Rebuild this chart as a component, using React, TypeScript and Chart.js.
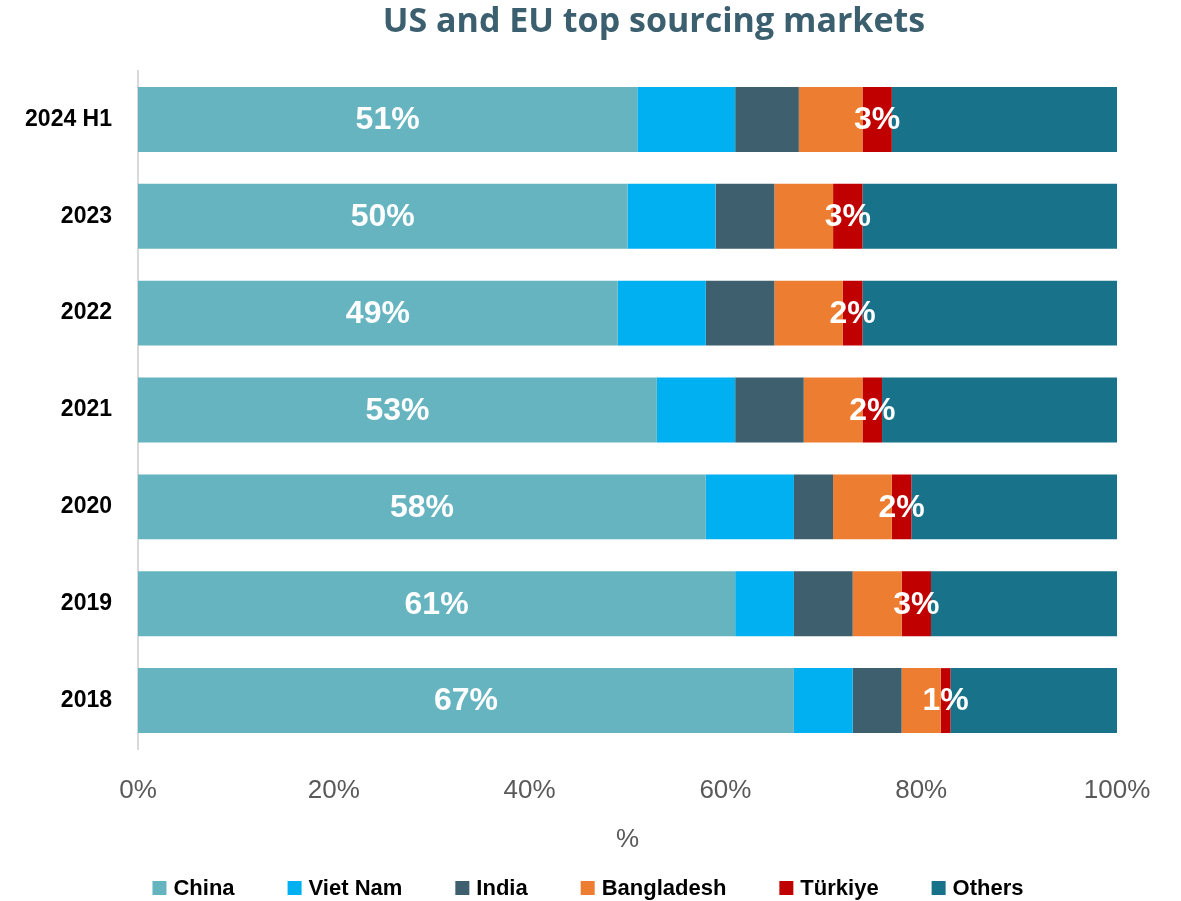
import React, { useEffect, useRef } from "react";
import { Chart, registerables } from "chart.js";

Chart.register(...registerables);

const categories = ["2024 H1", "2023", "2022", "2021", "2020", "2019", "2018"];
const china = [51, 50, 49, 53, 58, 61, 67];
const vietNam = [10, 9, 9, 8, 9, 6, 6];
const india = [6.5, 6, 7, 7, 4, 6, 5];
const bangladesh = [6.5, 6, 7, 6, 6, 5, 4];
const turkiye = [3, 3, 2, 2, 2, 3, 1];
const others = [23, 26, 26, 24, 21, 19, 17];
const xTicks = [0, 20, 40, 60, 80, 100];

const seriesNames = ["China", "Viet Nam", "India", "Bangladesh", "Türkiye", "Others"];
const seriesColors = ["#67b4c1", "#00b0f0", "#3d5f6e", "#ed7d31", "#c00000", "#17728a"];
const labeledSeries = [0, 4];

const TITLE = "US and EU top sourcing markets";

export default function App() {
  const ref = useRef<HTMLCanvasElement | null>(null);

  useEffect(() => {
    document.body.style.margin = "0";
    const canvas = ref.current;
    if (!canvas) return;
    const values = [china, vietNam, india, bangladesh, turkiye, others];

    const overlay = {
      id: "overlay",
      afterDatasetsDraw(chart: any) {
        const ctx = chart.ctx;
        ctx.save();
        ctx.fillStyle = "#ffffff";
        ctx.font = "bold 32px 'Liberation Sans', Arial, sans-serif";
        ctx.textAlign = "center";
        ctx.textBaseline = "middle";
        labeledSeries.forEach((di) => {
          const meta = chart.getDatasetMeta(di);
          meta.data.forEach((bar: any, i: number) => {
            const p = bar.getProps(["x", "y", "base"], true);
            const cx = (p.x + p.base) / 2;
            ctx.fillText(values[di][i] + "%", cx, p.y + 1);
          });
        });
        ctx.restore();
      },
      afterDraw(chart: any) {
        const ctx = chart.ctx;
        ctx.save();
        // title
        ctx.fillStyle = "#3b5f6e";
        ctx.font = "bold 34px 'Open Sans', sans-serif";
        ctx.textAlign = "center";
        ctx.textBaseline = "middle";
        ctx.fillText(TITLE, 654, 22);
        // legend
        ctx.font = "bold 22px 'Liberation Sans', Arial, sans-serif";
        ctx.textAlign = "left";
        const box = 14;
        const gapBox = 7;
        const gapItem = 53;
        const widths = seriesNames.map((n) => box + gapBox + ctx.measureText(n).width);
        const total = widths.reduce((a, b) => a + b, 0) + gapItem * (seriesNames.length - 1);
        let x = 588 - total / 2;
        const y = 888;
        seriesNames.forEach((n, i) => {
          ctx.fillStyle = seriesColors[i];
          ctx.fillRect(x, y - box / 2, box, box);
          ctx.fillStyle = "#000000";
          ctx.fillText(n, x + box + gapBox, y + 1);
          x += widths[i] + gapItem;
        });
        ctx.restore();
      },
    };

    const chart = new Chart(canvas, {
      type: "bar",
      data: {
        labels: categories,
        datasets: seriesNames.map((name, i) => ({
          label: name,
          data: values[i],
          backgroundColor: seriesColors[i],
          borderWidth: 0,
          categoryPercentage: 0.67,
          barPercentage: 1,
        })),
      },
      options: {
        indexAxis: "y",
        responsive: false,
        animation: false,
        layout: { padding: { top: 71, right: 64, bottom: 42, left: 0 } },
        plugins: {
          legend: { display: false },
          title: { display: false },
          tooltip: { enabled: false },
        },
        scales: {
          x: {
            stacked: true,
            min: 0,
            max: 100,
            afterBuildTicks(scale: any) {
              scale.ticks = xTicks.map((v) => ({ value: v }));
            },
            afterFit(scale: any) {
              scale.height = 110;
            },
            grid: { display: false, drawTicks: false },
            border: { display: false },
            ticks: {
              padding: 26,
              color: "#595959",
              font: { family: "'Liberation Sans', Arial, sans-serif", size: 26 },
              callback: (v: any) => v + "%",
              maxRotation: 0,
            },
            title: {
              display: true,
              text: "%",
              color: "#595959",
              padding: 4,
              font: { family: "'Liberation Sans', Arial, sans-serif", size: 26 },
            },
          },
          y: {
            stacked: true,
            afterFit(scale: any) {
              scale.width = 138;
            },
            grid: { display: false, drawTicks: false },
            border: { display: true, color: "#d9d9d9", width: 2 },
            ticks: {
              padding: 26,
              color: "#000000",
              font: { family: "'Liberation Sans', Arial, sans-serif", size: 23, weight: "bold" },
            },
          },
        },
      },
      plugins: [overlay],
    } as any);

    return () => chart.destroy();
  }, []);

  return (
    <div style={{ width: 1181, height: 901 }}>
      <canvas ref={ref} width={1181} height={901} style={{ display: "block" }} />
    </div>
  );
}
